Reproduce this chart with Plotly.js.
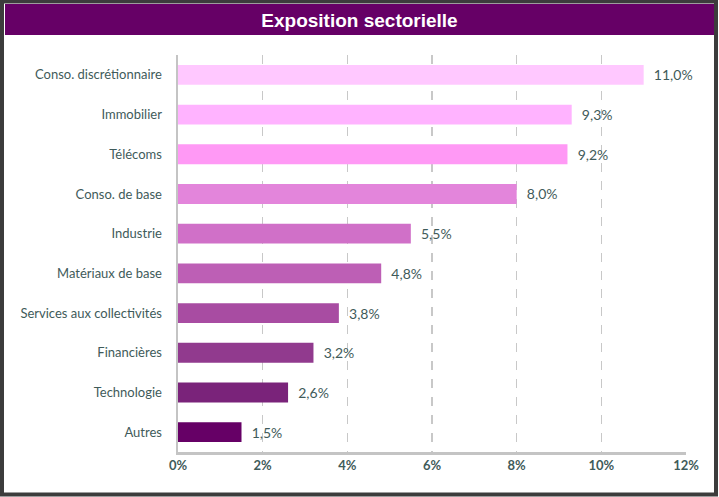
<!DOCTYPE html>
<html>
<head>
<meta charset="utf-8">
<script src="https://cdn.plot.ly/plotly-3.0.1.min.js"></script>
<style>
html,body{margin:0;padding:0;background:#fff;}
#chart{width:719px;height:497px;}
</style>
</head>
<body>
<div id="chart"></div>
<script>
const categories = ["Conso. discrétionnaire","Immobilier","Télécoms","Conso. de base","Industrie","Matériaux de base","Services aux collectivités","Financières","Technologie","Autres"];
const values = [11.0, 9.3, 9.2, 8.0, 5.5, 4.8, 3.8, 3.2, 2.6, 1.5];
const barColors = ["#FFC8FF","#FFB3FF","#FF99F5","#E385DB","#D070C8","#BD5FB5","#A84CA2","#913A8E","#7A237A","#660066"];
const tickVals = [0,2,4,6,8,10,12];
const tickText = ["0%","2%","4%","6%","8%","10%","12%"];

const W = 719, H = 497;
const mL = 178, mR = 33, mT = 55, mB = 45;
const pw = W - mL - mR, ph = H - mT - mB;
const px = v => (v - mL) / pw;
const py = v => (H - mB - v) / ph;
const txtColor = "#3f5b5a";

const trace = {
  type: "bar",
  orientation: "h",
  y: categories,
  x: values,
  marker: {color: barColors},
  width: 0.5,
  text: values.map(v => "\u00a0\u00a0" + v.toFixed(1).replace(".", ",") + "%"),
  textposition: "outside",
  textfont: {family: "Lato, 'Open Sans', sans-serif", size: 14, color: txtColor},
  cliponaxis: false,
  hoverinfo: "none"
};

const layout = {
  width: W, height: H,
  margin: {l: mL, r: mR, t: mT, b: mB},
  paper_bgcolor: "#ffffff",
  plot_bgcolor: "rgba(0,0,0,0)",
  showlegend: false,
  title: {
    text: "<b>Exposition sectorielle</b>",
    font: {family: "'Liberation Sans', Arial, sans-serif", size: 19, color: "#ffffff"},
    x: 0.5, xref: "container", xanchor: "center",
    y: 1 - 20 / H, yref: "container", yanchor: "middle"
  },
  xaxis: {
    range: [0, 12],
    tickvals: tickVals,
    ticktext: tickText,
    showgrid: true,
    gridcolor: "#c8c8c8",
    gridwidth: 1.5,
    griddash: "dash",
    zeroline: false,
    showline: true,
    linecolor: "#c4c4c4",
    linewidth: 2.5,
    ticks: "",
    tickfont: {family: "Lato, 'Open Sans', sans-serif", size: 13, color: txtColor, weight: "bold"},
    fixedrange: true
  },
  yaxis: {
    autorange: "reversed",
    showgrid: false,
    zeroline: false,
    showline: true,
    linecolor: "#c4c4c4",
    linewidth: 2.5,
    ticks: "",
    ticklabelstandoff: 11,
    tickfont: {family: "Lato, 'Open Sans', sans-serif", size: 13, color: txtColor},
    fixedrange: true
  },
  shapes: [
    {type: "rect", xref: "paper", yref: "paper", layer: "below",
     x0: px(5), x1: px(715), y0: py(4), y1: py(35),
     fillcolor: "#660066", line: {width: 0}},
    {type: "rect", xref: "paper", yref: "paper", layer: "above",
     x0: px(2), x1: px(716), y0: py(1.5), y1: py(494.5),
     fillcolor: "rgba(0,0,0,0)", line: {color: "#3c3c3c", width: 4}}
  ]
};

Plotly.newPlot("chart", [trace], layout, {displayModeBar: false, staticPlot: true});
</script>
</body>
</html>
